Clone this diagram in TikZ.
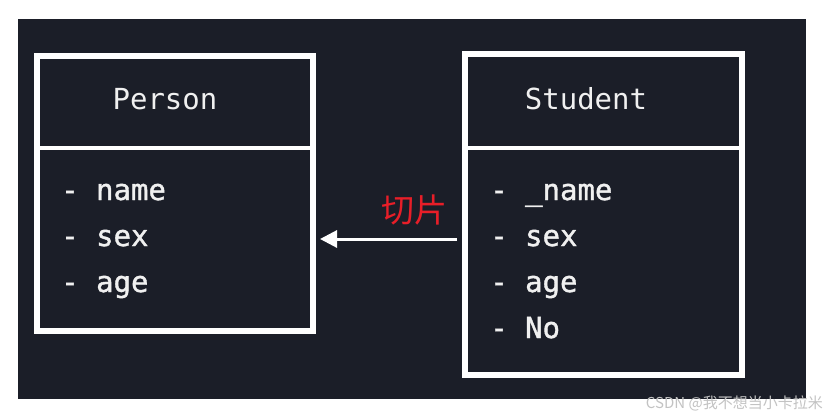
\documentclass[tikz,border=0pt]{standalone}
\usepackage{fontspec}
\setmonofont{DejaVu Sans Mono}
\newfontfamily\monomed{DejaVu Sans Mono}[FakeBold=1.3]
\newfontfamily\cjk{Noto Sans CJK SC}
\usetikzlibrary{arrows.meta}
\definecolor{bgdark}{RGB}{27,30,40}
\definecolor{labelred}{RGB}{232,30,40}
\definecolor{wmgray}{RGB}{195,195,195}
\definecolor{txtwhite}{RGB}{240,240,240}
\begin{document}
\begin{tikzpicture}[x=1pt,y=-1pt,
  classbox/.style={draw=white,line width=6pt,inner sep=0pt,outer sep=0pt,anchor=north west},
  divider/.style={draw=white,line width=3.5pt},
  titletext/.style={text=txtwhite,font=\ttfamily\fontsize{29}{34}\selectfont,inner sep=0pt,anchor=base},
  itemtext/.style={text=txtwhite,font=\monomed\fontsize{29}{34}\selectfont,inner sep=0pt,anchor=base west},
  link/.style={draw=white,line width=3pt,-{Triangle[length=17pt,width=17pt]}}]
\useasboundingbox (0,0) rectangle (836,420);
\fill[white] (0,0) rectangle (836,420);
\fill[bgdark] (18,19) rectangle (806,399);
% boxes
\node[classbox,minimum width=276pt,minimum height=275pt] (pbox) at (37,56) {};
\node[classbox,minimum width=277pt,minimum height=321pt] (sbox) at (465,54) {};
\draw[divider] (pbox.west |- 0,148) -- (pbox.east |- 0,148);
\draw[divider] (sbox.west |- 0,148) -- (sbox.east |- 0,148);
% titles
\node[titletext] (ptitle) at (165,110) {Person};
\node[titletext] (stitle) at (586,110) {Student};
% person items
\node[itemtext] (p1) at (61,200) {- name};
\node[itemtext] (p2) at (61,246) {- sex};
\node[itemtext] (p3) at (61,292) {- age};
% student items
\node[itemtext] (s1) at (490,200) {- \_name};
\node[itemtext] (s2) at (490,246) {- sex};
\node[itemtext] (s3) at (490,292) {- age};
\node[itemtext] (s4) at (490,338) {- No};
% arrow
\draw[link] ([xshift=-8pt]sbox.west |- 0,239) -- ([xshift=7pt]pbox.east |- 0,239);
\node[text=labelred,font=\cjk\fontsize{33}{33}\selectfont,inner sep=0pt] (lbl) at (414,210) {切片};
% watermark
\node[text=wmgray,font=\cjk\fontsize{15}{15}\selectfont,inner sep=0pt,anchor=east] (wm) at (823,403) {CSDN @我不想当小卡拉米};
\end{tikzpicture}
\end{document}
